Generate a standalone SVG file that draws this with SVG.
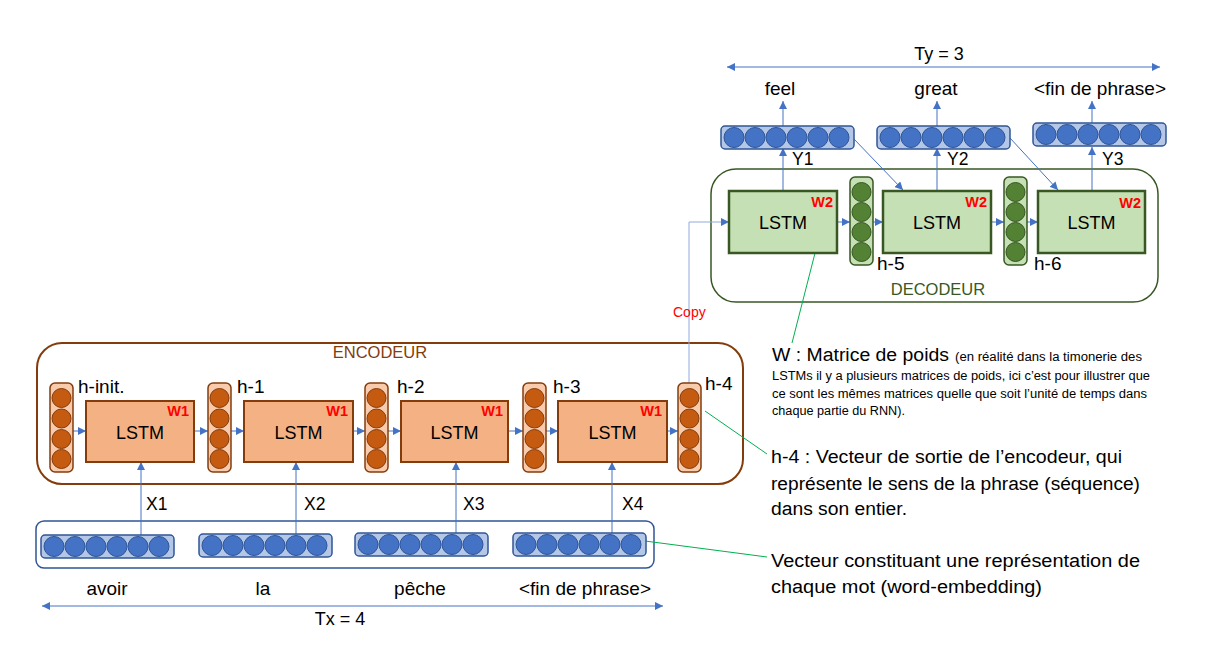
<svg xmlns="http://www.w3.org/2000/svg" width="1226" height="645" viewBox="0 0 1226 645">
<style>
text{font-family:"Liberation Sans",Arial,sans-serif;fill:#000}
.enc{fill:#fff;stroke:#843C0C;stroke-width:2}
.dec{fill:#fff;stroke:#385723;stroke-width:1.5}
.emb{fill:#fff;stroke:#2F5597;stroke-width:1.5}
.vo{fill:#F8CBAD;stroke:#843C0C;stroke-width:1.5}
.co{fill:#C55A11;stroke:#843C0C;stroke-width:1}
.lo{fill:#F4B183;stroke:#843C0C;stroke-width:2}
.vg{fill:#C5E0B4;stroke:#385723;stroke-width:1.5}
.cg{fill:#548235;stroke:#385723;stroke-width:1}
.lg{fill:#C5E0B4;stroke:#385723;stroke-width:2.5}
.vb{fill:#B4C7E7;stroke:#2F5597;stroke-width:1.5}
.cb{fill:#4472C4;stroke:#2F5597;stroke-width:1}
.lbl{font-size:18px}
.hl{font-size:19px}
.word{font-size:19px}
.xy{font-size:17.5px}
.w{font-size:14.5px;font-weight:bold;fill:#FF0000}
.c{fill:none;stroke:#4472C4;stroke-width:1}
.a{marker-end:url(#ah)}
.g{fill:none;stroke:#00B050;stroke-width:1}
.note{font-size:18px}
.small{font-size:12px}
</style>
<defs>
<marker id="ah" viewBox="0 0 10 10" refX="10" refY="5" markerUnits="userSpaceOnUse" markerWidth="8" markerHeight="8" orient="auto-start-reverse">
<path d="M0,0 L10,5 L0,10 z" fill="#4472C4"/>
</marker>
<g id="vecO">
<rect class="vo" x="0" y="0" width="23" height="89" rx="5"/>
<circle class="co" cx="11.5" cy="15" r="9.5"/>
<circle class="co" cx="11.5" cy="35.5" r="9.5"/>
<circle class="co" cx="11.5" cy="56" r="9.5"/>
<circle class="co" cx="11.5" cy="76" r="9.5"/>
</g>
<g id="vecG">
<rect class="vg" x="0" y="0" width="23" height="88" rx="5"/>
<circle class="cg" cx="11.5" cy="15" r="9.5"/>
<circle class="cg" cx="11.5" cy="35" r="9.5"/>
<circle class="cg" cx="11.5" cy="55" r="9.5"/>
<circle class="cg" cx="11.5" cy="75" r="9.5"/>
</g>
<g id="vecB">
<rect class="vb" x="0" y="0" width="133" height="23" rx="4"/>
<circle class="cb" cx="13" cy="11.5" r="10"/>
<circle class="cb" cx="34" cy="11.5" r="10"/>
<circle class="cb" cx="55" cy="11.5" r="10"/>
<circle class="cb" cx="76" cy="11.5" r="10"/>
<circle class="cb" cx="97" cy="11.5" r="10"/>
<circle class="cb" cx="118" cy="11.5" r="10"/>
</g>
</defs>

<rect width="1226" height="645" fill="#fff"/>

<!-- containers -->
<g id="encodeur">
<rect class="enc" x="37" y="343" width="706" height="141" rx="25"/>
<text x="380" y="358" text-anchor="middle" style="font-size:16.5px;fill:#843C0C">ENCODEUR</text>
</g>
<g id="decodeur">
<rect class="dec" x="711" y="169" width="447" height="133" rx="25"/>
<text x="938" y="295" text-anchor="middle" style="font-size:16.5px;fill:#385723">DECODEUR</text>
</g>
<g id="embeddings-box">
<rect class="emb" x="36" y="521" width="618" height="47" rx="8"/>
</g>

<!-- connectors -->
<g id="connectors">
<path class="c a" d="M73,431 H86"/>
<path class="c a" d="M194,431 H208"/>
<path class="c a" d="M231,431 H244"/>
<path class="c a" d="M353,431 H365"/>
<path class="c a" d="M388,431 H401"/>
<path class="c a" d="M508,431 H523"/>
<path class="c a" d="M546,431 H558"/>
<path class="c a" d="M667,431 H678"/>
<path class="c a" d="M141,535 V462"/>
<path class="c a" d="M296,534 V462"/>
<path class="c a" d="M456,533 V462"/>
<path class="c a" d="M612,533 V462"/>
<path class="a" d="M689,383 V222 H729" fill="none" stroke="#8FAADC" stroke-width="1"/>
<path class="c a" d="M837,222 H850"/>
<path class="c a" d="M873,222 H883"/>
<path class="c a" d="M991,222 H1004"/>
<path class="c a" d="M1027,222 H1038"/>
<path class="c a" d="M783,191 V148"/>
<path class="c a" d="M937,191 V148"/>
<path class="c a" d="M1092,191 V147"/>
<path class="c a" d="M783,127 V101"/>
<path class="c a" d="M937,127 V101"/>
<path class="c a" d="M1092,123 V101"/>
<path class="c a" d="M853,138 L903,190"/>
<path class="c a" d="M1010,138 L1058,190"/>
<path class="c a" d="M42,606 H663" marker-start="url(#ah)"/>
<path class="c a" d="M727,67 H1160" marker-start="url(#ah)"/>
<path class="g" d="M645,541 L767,557"/>
<path class="g" d="M705,411 L767,454"/>
<path class="g" d="M824,218 L792,343"/>
</g>

<!-- encoder nodes -->
<g id="h-init">
<use href="#vecO" x="50" y="383"/>
<text class="hl" x="78" y="393">h-init.</text>
</g>
<g id="lstm-e1">
<rect class="lo" x="86" y="401" width="108" height="61"/>
<text class="lbl" x="140" y="439" text-anchor="middle">LSTM</text>
<text class="w" x="189" y="416" text-anchor="end">W1</text>
</g>
<g id="h-1">
<use href="#vecO" x="208" y="383"/>
<text class="hl" x="237" y="393">h-1</text>
</g>
<g id="lstm-e2">
<rect class="lo" x="244" y="401" width="109" height="61"/>
<text class="lbl" x="298.5" y="439" text-anchor="middle">LSTM</text>
<text class="w" x="348" y="416" text-anchor="end">W1</text>
</g>
<g id="h-2">
<use href="#vecO" x="365" y="383"/>
<text class="hl" x="397" y="393">h-2</text>
</g>
<g id="lstm-e3">
<rect class="lo" x="401" y="401" width="107" height="61"/>
<text class="lbl" x="454.5" y="439" text-anchor="middle">LSTM</text>
<text class="w" x="503" y="416" text-anchor="end">W1</text>
</g>
<g id="h-3">
<use href="#vecO" x="523" y="383"/>
<text class="hl" x="553" y="393">h-3</text>
</g>
<g id="lstm-e4">
<rect class="lo" x="558" y="401" width="109" height="61"/>
<text class="lbl" x="612.5" y="439" text-anchor="middle">LSTM</text>
<text class="w" x="662" y="416" text-anchor="end">W1</text>
</g>
<g id="h-4">
<use href="#vecO" x="678" y="383"/>
<text class="hl" x="705" y="390">h-4</text>
</g>

<!-- embeddings -->
<g id="x1">
<use href="#vecB" x="41" y="535"/>
<text class="xy" x="146" y="510">X1</text>
<text class="word" x="107" y="595" text-anchor="middle">avoir</text>
</g>
<g id="x2">
<use href="#vecB" x="199" y="534"/>
<text class="xy" x="304" y="510">X2</text>
<text class="word" x="263" y="595" text-anchor="middle">la</text>
</g>
<g id="x3">
<use href="#vecB" x="355" y="533"/>
<text class="xy" x="463" y="510">X3</text>
<text class="word" x="420" y="595" text-anchor="middle">pêche</text>
</g>
<g id="x4">
<use href="#vecB" x="513" y="533"/>
<text class="xy" x="622" y="510">X4</text>
<text class="word" x="585" y="595" text-anchor="middle">&lt;fin de phrase&gt;</text>
</g>
<g id="tx">
<text x="340" y="625" text-anchor="middle" style="font-size:18px">Tx = 4</text>
</g>

<!-- decoder nodes -->
<g id="lstm-d1">
<rect class="lg" x="729" y="191" width="108" height="62"/>
<text class="lbl" x="783" y="229" text-anchor="middle">LSTM</text>
<text class="w" x="833" y="207" text-anchor="end">W2</text>
</g>
<g id="h-5">
<use href="#vecG" x="850" y="177"/>
<text class="hl" x="877" y="270">h-5</text>
</g>
<g id="lstm-d2">
<rect class="lg" x="883" y="191" width="108" height="62"/>
<text class="lbl" x="937" y="229" text-anchor="middle">LSTM</text>
<text class="w" x="987" y="207" text-anchor="end">W2</text>
</g>
<g id="h-6">
<use href="#vecG" x="1004" y="177"/>
<text class="hl" x="1034" y="270">h-6</text>
</g>
<g id="lstm-d3">
<rect class="lg" x="1038" y="191" width="107" height="62"/>
<text class="lbl" x="1091.5" y="229" text-anchor="middle">LSTM</text>
<text class="w" x="1141" y="208" text-anchor="end">W2</text>
</g>
<g id="y1">
<use href="#vecB" x="721" y="126"/>
<text class="xy" x="792" y="165">Y1</text>
<text class="word" x="780" y="95" text-anchor="middle">feel</text>
</g>
<g id="y2">
<use href="#vecB" x="877" y="126"/>
<text class="xy" x="947" y="165">Y2</text>
<text class="word" x="936" y="95" text-anchor="middle">great</text>
</g>
<g id="y3">
<use href="#vecB" x="1033" y="123"/>
<text class="xy" x="1102" y="165">Y3</text>
<text class="word" x="1100" y="95" text-anchor="middle">&lt;fin de phrase&gt;</text>
</g>
<g id="ty">
<text x="939" y="60" text-anchor="middle" style="font-size:18px">Ty = 3</text>
</g>
<g id="copy">
<text x="673" y="317" style="font-size:14px;fill:#FF0000">Copy</text>
</g>

<!-- annotations -->
<g id="note-w">
<text class="note" x="772" y="361" textLength="177" lengthAdjust="spacingAndGlyphs">W : Matrice de poids</text>
<text class="small" x="955" y="361" textLength="187" lengthAdjust="spacingAndGlyphs">(en réalité dans la timonerie des</text>
<text class="small" x="772" y="380" textLength="378" lengthAdjust="spacingAndGlyphs">LSTMs il y a plusieurs matrices de poids, ici c’est pour illustrer que</text>
<text class="small" x="772" y="398" textLength="375" lengthAdjust="spacingAndGlyphs">ce sont les mêmes matrices quelle que soit l’unité de temps dans</text>
<text class="small" x="772" y="415" textLength="133" lengthAdjust="spacingAndGlyphs">chaque partie du RNN).</text>
</g>
<g id="note-h4">
<text class="note" x="771" y="463" textLength="351" lengthAdjust="spacingAndGlyphs">h-4 : Vecteur de sortie de l’encodeur, qui</text>
<text class="note" x="771" y="490" textLength="369" lengthAdjust="spacingAndGlyphs">représente le sens de la phrase (séquence)</text>
<text class="note" x="771" y="515" textLength="136" lengthAdjust="spacingAndGlyphs">dans son entier.</text>
</g>
<g id="note-emb">
<text class="note" x="771" y="567" textLength="369" lengthAdjust="spacingAndGlyphs">Vecteur constituant une représentation de</text>
<text class="note" x="771" y="593" textLength="271" lengthAdjust="spacingAndGlyphs">chaque mot (word-embedding)</text>
</g>
</svg>
